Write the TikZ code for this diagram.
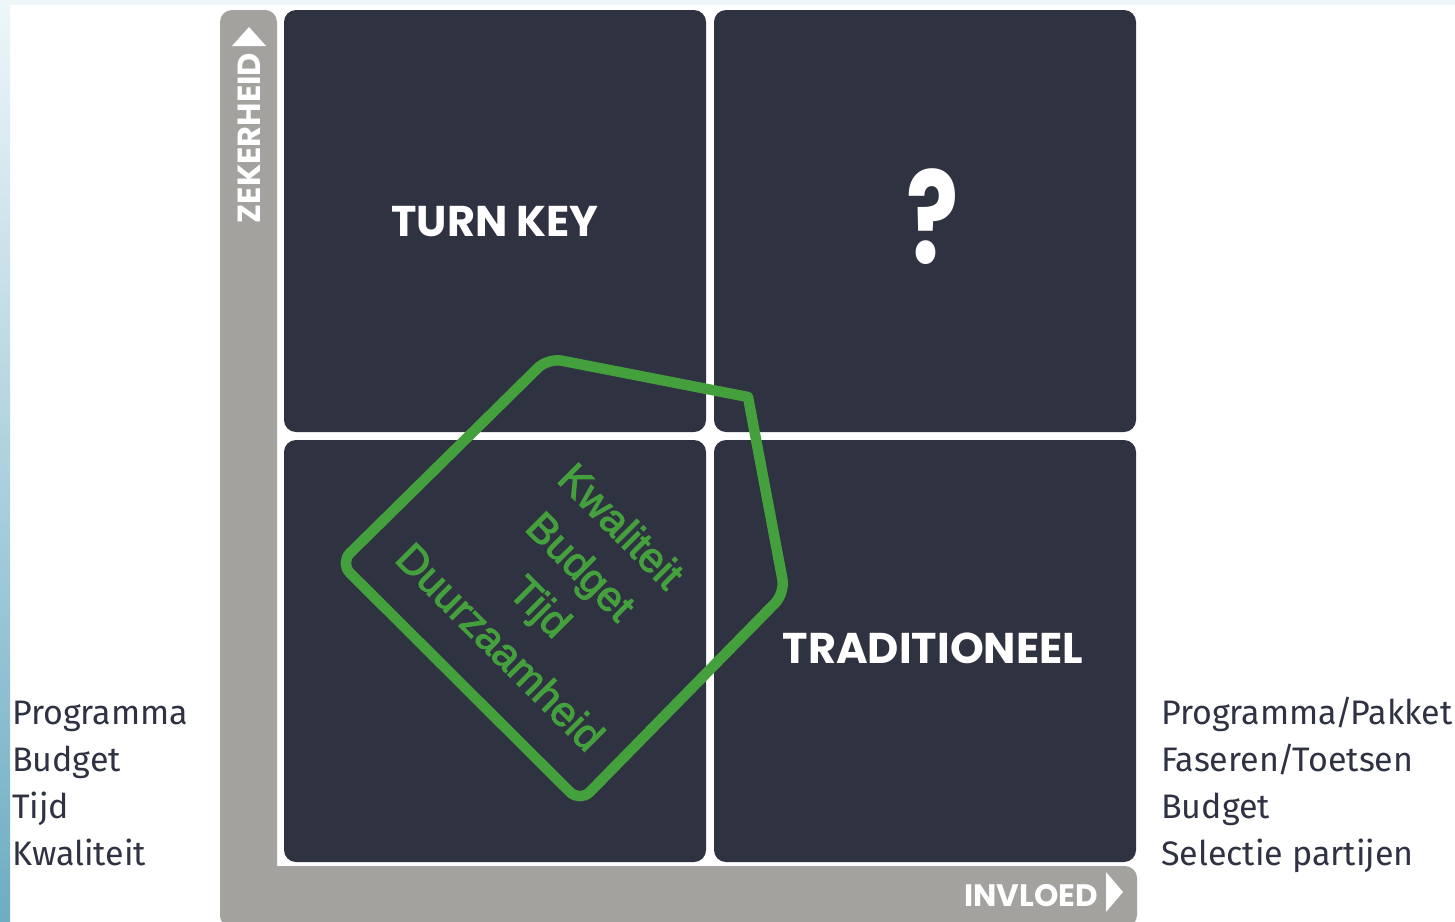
\documentclass[tikz,border=0pt]{standalone}
\usepackage{fontspec}
\usetikzlibrary{calc}
\setmainfont{Fira Sans}
\newfontfamily\headfont{Poppins}
\newfontfamily\greenfont[FakeBold=2.5]{Liberation Sans}
\definecolor{navy}{HTML}{2F3240}
\definecolor{axisgray}{HTML}{A3A29F}
\definecolor{kgreen}{HTML}{44A03D}
\definecolor{txt}{HTML}{2E3242}
\definecolor{stripA}{HTML}{EEF6FA}
\definecolor{stripM}{HTML}{D6EAF1}
\definecolor{stripB}{HTML}{6EADC3}
\newcommand{\slsh}{\kern-2pt/\kern-2pt}
\begin{document}
\begin{tikzpicture}[x=1pt,y=-1pt,
  quad/.style={fill=navy, rounded corners=12pt, minimum width=422pt, minimum height=422pt, inner sep=0pt, draw=none},
  head/.style={text=white, font=\headfont\bfseries\fontsize{43}{43}\selectfont, inner sep=0pt},
  axislbl/.style={text=white, font=\headfont\bfseries\fontsize{32}{32}\selectfont, inner sep=0pt},
  side/.style={text=txt, font=\fontsize{34}{47}\selectfont, anchor=base west, inner sep=0pt},
  kline/.style={text=kgreen, font=\greenfont\fontsize{42}{57}\selectfont, rotate=-45, inner sep=0pt, align=center},
  tri/.style={fill=white},
  pent/.style={draw=kgreen, line width=10.5pt, line join=round},
]
\useasboundingbox (0,0) rectangle (1455,921);
\clip (0,0) rectangle (1455,921);
\fill[white] (0,0) rectangle (1455,921);
% background strips
\fill[stripA] (0,0) rectangle (1455,5);
\shade[top color=stripA, middle color=stripM, bottom color=stripB] (0,0) rectangle (10,921);
% axes
\fill[axisgray, rounded corners=12pt] (220,10) rectangle (277,927);
\fill[axisgray, rounded corners=12pt] (220,866) rectangle (1137,927);
% quadrants
\node[quad] (tl) at (495,221) {};
\node[quad] (tr) at (925,221) {};
\node[quad] (bl) at (495,651) {};
\node[quad] (br) at (925,651) {};
% quadrant labels
\node[head] (turnkey) at (495,222) {TURN KEY};
\node[head, xscale=0.76, font=\headfont\bfseries\fontsize{128}{128}\selectfont] (q) at (933,217) {?};
\node[head] (trad) at (933,648) {TRADITIONEEL};
% axis labels and arrows
\node[axislbl, rotate=90] (zek) at (249,138) {ZEKERHEID};
\fill[tri] (249,27) -- (266,46) -- (232,46) -- cycle;
\node[axislbl, font=\headfont\bfseries\fontsize{31}{31}\selectfont] (inv) at (1031,896) {INVLOED};
\fill[tri] (1123,892) -- (1106,912) -- (1106,872) -- cycle;
% green pentagon
\coordinate (pa) at (548,358);
\coordinate (pb) at (748,397);
\coordinate (pc) at (785,593);
\coordinate (pd) at (580,802);
\coordinate (pe) at (340,563);
\coordinate (pm) at ($(pe)!0.5!(pa)$);
\draw[pent] (pm) [rounded corners=14pt] -- (pa) [sharp corners] -- (pb) [rounded corners=14pt] -- (pc) -- (pd) -- (pe) -- cycle;
\node[kline] (ktext) at (561,586) {Kwaliteit\\Budget\\Tijd\\Duurzaamheid};
% side texts
\node[side] (l1) at (12,724) {Programma};
\node[side] (l2) at (12,771) {Budget};
\node[side] (l3) at (12,818) {Tijd};
\node[side] (l4) at (12,865) {Kwaliteit};
\node[side] (r1) at (1161,724) {Programma\slsh Pakket};
\node[side] (r2) at (1161,771) {Faseren\slsh Toetsen};
\node[side] (r3) at (1161,818) {Budget};
\node[side] (r4) at (1161,865) {Selectie partijen};
\end{tikzpicture}
\end{document}
